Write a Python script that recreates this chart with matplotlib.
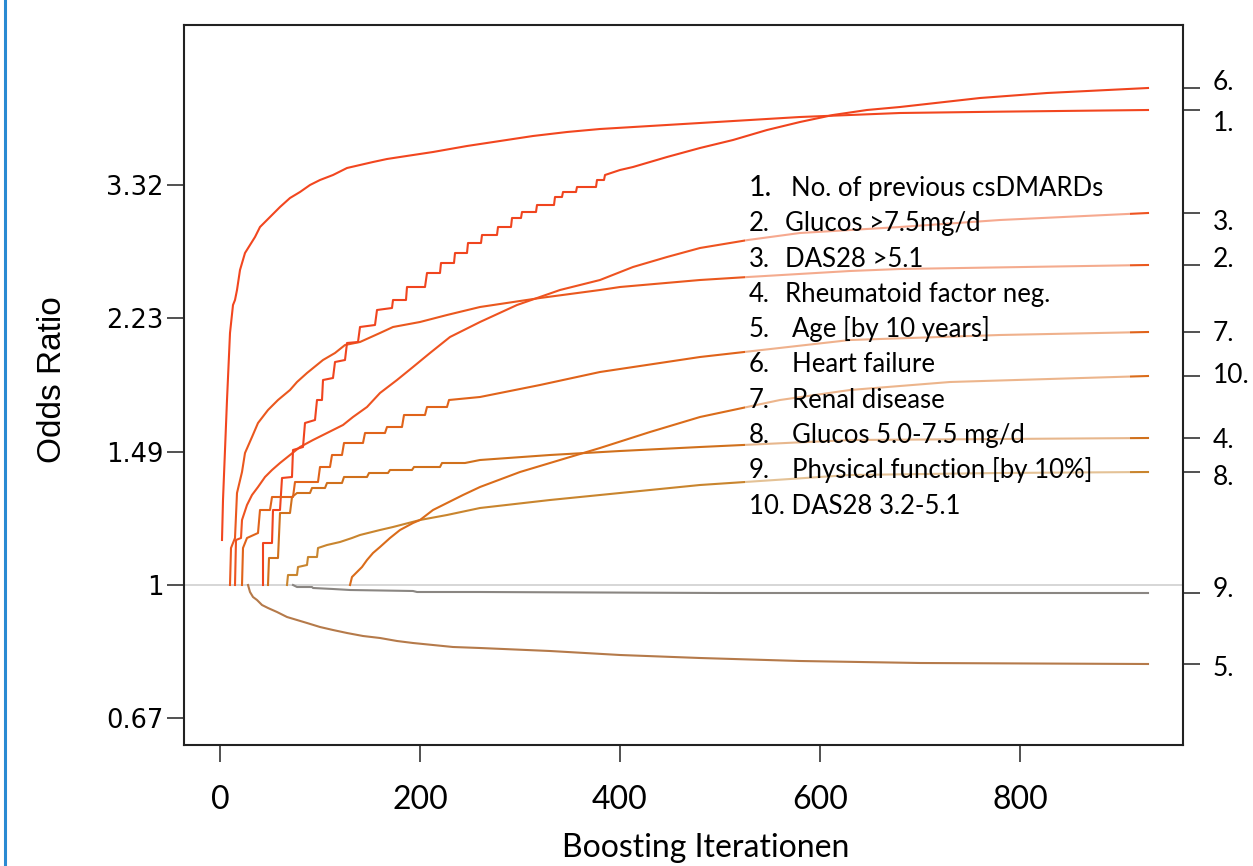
import matplotlib
matplotlib.use("Agg")
import matplotlib.pyplot as plt
import matplotlib.transforms as mtransforms
from matplotlib.patches import Rectangle
from matplotlib.lines import Line2D

# coefficient paths (log odds) per boosting iteration
it1 = [2, 3, 7, 10, 13, 15, 17, 20, 25, 30, 35, 40, 47, 52, 60, 70, 80, 90, 100, 113,
       127, 140, 153, 167, 180, 213, 247, 280, 313, 347, 380, 480, 580, 680, 780, 928]
b1 = [0.135, 0.255, 0.555, 0.756, 0.84, 0.855, 0.885, 0.945, 0.996, 1.02, 1.044, 1.074,
      1.095, 1.11, 1.134, 1.161, 1.179, 1.2, 1.215, 1.23, 1.251, 1.26, 1.269, 1.278, 1.284,
      1.299, 1.317, 1.332, 1.347, 1.359, 1.368, 1.386, 1.404, 1.416, 1.42, 1.425]

it2 = [10, 11, 15, 17, 22, 25, 32, 38, 48, 58, 70, 77, 87, 103, 115, 125, 140, 160, 173,
       200, 227, 260, 320, 380, 400, 480, 528, 630, 680, 928]
b2 = [0, 0.111, 0.141, 0.276, 0.339, 0.396, 0.444, 0.486, 0.525, 0.555, 0.585, 0.609,
      0.636, 0.675, 0.696, 0.72, 0.729, 0.756, 0.774, 0.789, 0.81, 0.834, 0.861, 0.885,
      0.894, 0.915, 0.924, 0.942, 0.948, 0.96]

it3 = [15, 16, 21, 22, 27, 32, 38, 45, 52, 60, 70, 80, 93, 107, 123, 133, 147, 160, 177,
       193, 210, 230, 260, 297, 340, 380, 413, 447, 480, 528, 580, 680, 780, 928]
b3 = [0, 0.135, 0.141, 0.195, 0.24, 0.27, 0.294, 0.324, 0.345, 0.366, 0.39, 0.414, 0.435,
      0.456, 0.48, 0.504, 0.534, 0.576, 0.615, 0.654, 0.696, 0.744, 0.789, 0.84, 0.885,
      0.915, 0.954, 0.984, 1.011, 1.035, 1.056, 1.074, 1.095, 1.116]

it4 = [48, 49, 58, 60, 70, 72, 77, 90, 92, 105, 107, 122, 124, 147, 149, 168, 170, 192,
       194, 220, 222, 245, 260, 330, 400, 480, 630, 780, 928]
b4 = [0, 0.081, 0.081, 0.216, 0.216, 0.264, 0.276, 0.276, 0.291, 0.291, 0.306, 0.306,
      0.324, 0.324, 0.336, 0.336, 0.345, 0.345, 0.354, 0.354, 0.366, 0.366, 0.375, 0.39,
      0.402, 0.414, 0.435, 0.438, 0.441]

it5 = [28, 30, 33, 37, 42, 48, 57, 67, 77, 87, 100, 113, 127, 143, 160, 177, 193, 213,
       233, 260, 330, 400, 480, 580, 700, 928]
b5 = [0, -0.021, -0.036, -0.045, -0.06, -0.069, -0.081, -0.096, -0.105, -0.114, -0.126,
      -0.135, -0.144, -0.153, -0.159, -0.168, -0.174, -0.18, -0.186, -0.189, -0.198,
      -0.21, -0.219, -0.228, -0.234, -0.237]

it6 = [43, 43, 52, 53, 60, 62, 72, 73, 83, 85, 95, 97, 102, 103, 113, 115, 125, 127, 138,
       140, 155, 157, 172, 173, 186, 187, 205, 207, 220, 221, 234, 235, 247, 248, 261, 262,
       277, 278, 291, 292, 301, 302, 316, 317, 334, 335, 342, 343, 356, 357, 376, 377, 384,
       385, 400, 413, 447, 480, 513, 547, 580, 613, 647, 680, 760, 827, 928]
b6 = [0, 0.126, 0.126, 0.225, 0.225, 0.321, 0.324, 0.405, 0.414, 0.486, 0.495, 0.555,
      0.555, 0.615, 0.621, 0.669, 0.675, 0.726, 0.729, 0.774, 0.78, 0.825, 0.831, 0.855,
      0.855, 0.894, 0.894, 0.936, 0.936, 0.966, 0.966, 0.996, 0.996, 1.026, 1.026, 1.05,
      1.05, 1.074, 1.074, 1.101, 1.101, 1.119, 1.119, 1.14, 1.14, 1.164, 1.164, 1.179,
      1.179, 1.194, 1.194, 1.215, 1.215, 1.23, 1.245, 1.254, 1.284, 1.311, 1.335, 1.365,
      1.389, 1.41, 1.425, 1.434, 1.461, 1.476, 1.491]

it7 = [22, 23, 27, 38, 40, 50, 52, 73, 75, 98, 100, 110, 112, 122, 124, 143, 145, 165,
       167, 182, 184, 205, 207, 227, 229, 260, 320, 380, 480, 630, 780, 928]
b7 = [0, 0.111, 0.141, 0.156, 0.225, 0.225, 0.264, 0.264, 0.309, 0.309, 0.354, 0.354,
      0.39, 0.39, 0.426, 0.426, 0.456, 0.456, 0.474, 0.474, 0.51, 0.51, 0.534, 0.534,
      0.555, 0.564, 0.6, 0.639, 0.684, 0.735, 0.75, 0.759]

it8 = [67, 68, 77, 78, 87, 88, 97, 98, 107, 120, 132, 140, 160, 173, 200, 227, 260, 330,
       380, 480, 630, 780, 928]
b8 = [0, 0.03, 0.03, 0.054, 0.06, 0.084, 0.084, 0.111, 0.12, 0.129, 0.141, 0.15, 0.165,
      0.174, 0.195, 0.21, 0.231, 0.255, 0.27, 0.3, 0.33, 0.336, 0.339]

it9 = [73, 77, 92, 93, 113, 130, 193, 197, 260, 500, 928]
b9 = [0, -0.006, -0.006, -0.009, -0.012, -0.015, -0.018, -0.021, -0.021, -0.024, -0.024]

it10 = [130, 132, 137, 142, 147, 153, 160, 170, 180, 193, 200, 213, 227, 243, 260, 300,
        340, 380, 430, 480, 560, 630, 730, 928]
b10 = [0, 0.024, 0.039, 0.054, 0.075, 0.096, 0.114, 0.141, 0.165, 0.186, 0.195, 0.225,
       0.246, 0.27, 0.294, 0.339, 0.375, 0.411, 0.459, 0.504, 0.555, 0.585, 0.609, 0.627]

legend_nums = ["1.", "2.", "3.", "4.", "5.", "6.", "7.", "8.", "9.", "10."]
legend_names = ["No. of previous csDMARDs", "Glucos >7.5mg/d", "DAS28 >5.1",
                "Rheumatoid factor neg.", "Age [by 10 years]", "Heart failure",
                "Renal disease", "Glucos 5.0-7.5 mg/d", "Physical function [by 10%]",
                "DAS28 3.2-5.1"]

y_ticks = [-0.4, 0, 0.4, 0.8, 1.2]
y_tick_labels = ["0.67", "1", "1.49", "2.23", "3.32"]
x_ticks = [0, 200, 400, 600, 800]

colors = ["#f2461f", "#ea581e", "#ee5320", "#d0701c", "#b57a4a",
          "#f0441e", "#e0631a", "#c9852e", "#8a8682", "#da6c1a"]

paths = [(it1, b1), (it2, b2), (it3, b3), (it4, b4), (it5, b5),
         (it6, b6), (it7, b7), (it8, b8), (it9, b9), (it10, b10)]

# right-hand label positions (slightly shifted from tick so they don't collide)
label_y = [1.386, 0.978, 1.089, 0.435, -0.249, 1.509, 0.756, 0.324, -0.012, 0.63]

W, H = 1253, 866
fig = plt.figure(figsize=(W / 100, H / 100), dpi=100)
ax = fig.add_axes([184 / W, 1 - 745 / H, 999 / W, 720 / H])

ax.axhline(0, color="#d3d3d3", lw=1.3, zorder=1)
for (it, b), c in zip(paths, colors):
    ax.plot(it, b, color=c, lw=1.5, zorder=2)

ax.set_xlim(-36, 963)
ax.set_ylim(-0.48, 1.68)

for s in ax.spines.values():
    s.set_linewidth(1.5)
    s.set_color("#222222")

ax.set_xticks(x_ticks)
ax.set_xticklabels([str(v) for v in x_ticks], family="Lato", fontsize=23)
ax.set_yticks(y_ticks)
ax.set_yticklabels(y_tick_labels, family="DejaVu Sans", fontsize=18.5)
ax.tick_params(axis="x", length=12, width=1.1, color="#222222", pad=17)
ax.tick_params(axis="y", length=12, width=1.1, color="#222222", pad=3)

# right axis: ticks at the final value of every path
ax2 = ax.twinx()
ax2.set_ylim(ax.get_ylim())
ax2.set_yticks([b[-1] for _, b in paths])
ax2.set_yticklabels([])
ax2.tick_params(axis="y", length=12, width=1.1, color="#222222")
for s in ax2.spines.values():
    s.set_visible(False)

tr = mtransforms.blended_transform_factory(fig.transFigure, ax.transData)
for num, ly in zip(legend_nums, label_y):
    fig.text(1213 / W, ly, num, transform=tr, ha="left", va="center",
             family="Lato", fontsize=19)

# pale box behind the legend text
ax.add_patch(Rectangle((745 / W, 1 - 525 / H), 385 / W, 360 / H, transform=fig.transFigure,
                       facecolor="white", alpha=0.5, edgecolor="none", zorder=3))

name_x = [791, 785, 785, 785, 792, 792, 792, 792, 792, 794]
for k, (num, name) in enumerate(zip(legend_nums, legend_names)):
    base = 196 + k * 35.3
    if num == "10.":
        fig.text(749 / W, 1 - base / H, num + " " + name, family="Lato", fontsize=18.5,
                 va="baseline", ha="left", zorder=5)
    else:
        fig.text(749 / W, 1 - base / H, num, family="Lato",
                 fontsize=20.5 if k == 0 else 18.5, va="baseline", ha="left", zorder=5)
        fig.text(name_x[k] / W, 1 - base / H, name, family="Lato", fontsize=18.5,
                 va="baseline", ha="left", zorder=5)

fig.text(706 / W, 1 - 848 / H, "Boosting Iterationen", family="Lato", fontsize=23,
         ha="center", va="center")
fig.text(53 / W, 1 - 380 / H, "Odds Ratio", family=["Liberation Sans Narrow", "Liberation Sans"],
         fontsize=24, rotation=90, ha="center", va="center")

# blue slide border on the left
fig.add_artist(Line2D([4.5 / W, 4.5 / W], [0, 1], transform=fig.transFigure,
                      color="#2a8ad2", lw=2.2))

fig.savefig("out.png", dpi=100)
